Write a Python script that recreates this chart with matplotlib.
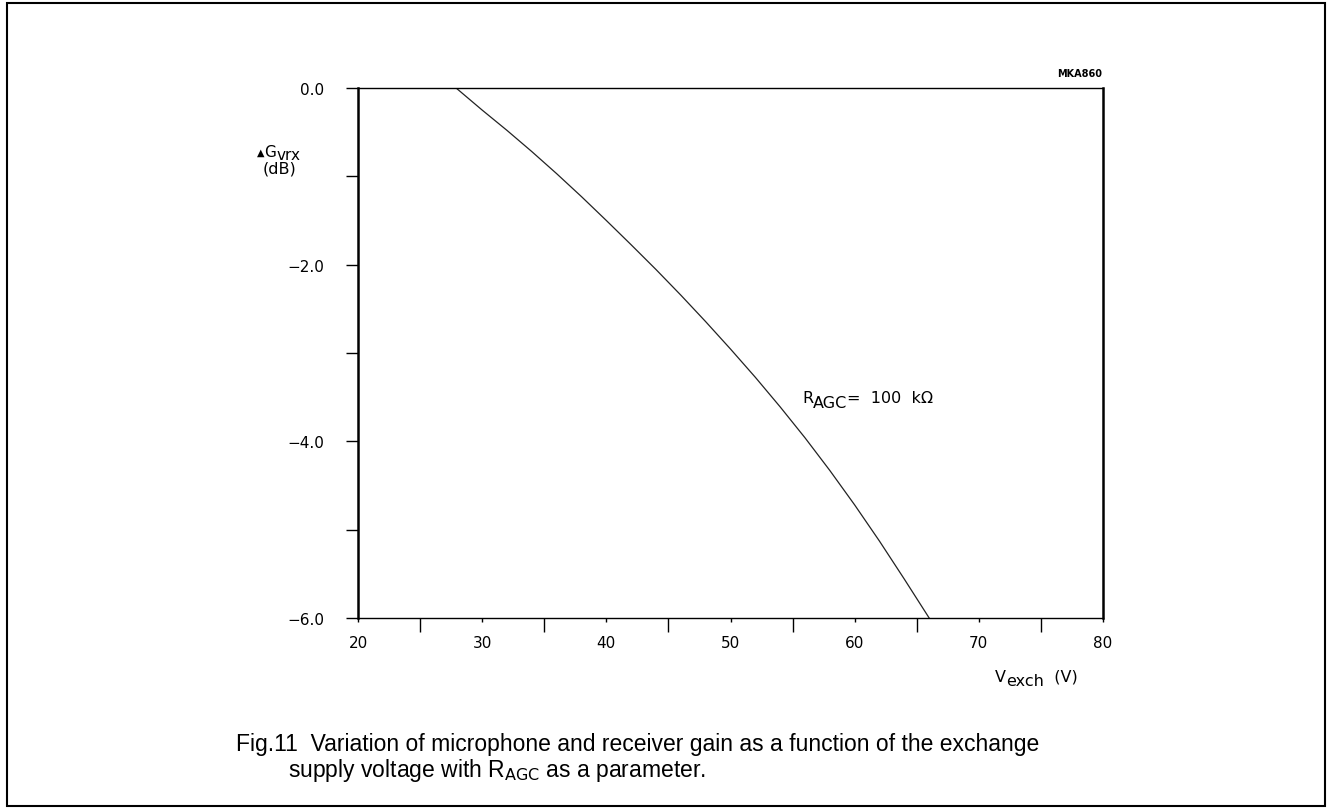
import matplotlib
matplotlib.use('Agg')
import matplotlib.pyplot as plt
from matplotlib.patches import Rectangle
from matplotlib.ticker import FixedLocator

# curve (V_exch in V, delta G_vrx in dB)
v_exch = [27.9, 30, 32, 34, 36, 38, 40, 42, 44, 46, 48, 50, 52, 54, 56, 58, 60, 62, 64, 66.0]
gain = [0.0, -0.25, -0.48, -0.72, -0.97, -1.23, -1.50, -1.775, -2.055, -2.345, -2.645, -2.955,
        -3.275, -3.61, -3.96, -4.33, -4.72, -5.13, -5.56, -6.0]

x_ticks = [20, 30, 40, 50, 60, 70, 80]
x_minor = [25, 35, 45, 55, 65, 75]
y_ticks = [0.0, -2.0, -4.0, -6.0]
y_minor = [-1.0, -3.0, -5.0]

W, H = 1327, 812
plt.rcParams['font.family'] = ['DejaVu Sans']

fig = plt.figure(figsize=(W / 100, H / 100), dpi=100)
ax = fig.add_axes([358 / W, 1 - 619 / H, 745 / W, 530 / H])

ax.plot(v_exch, gain, color='#222222', linewidth=0.9)

ax.set_xlim(20, 80)
ax.set_ylim(-6, 0)

# ticks
ax.xaxis.set_major_locator(FixedLocator(x_ticks))
ax.xaxis.set_minor_locator(FixedLocator(x_minor))
ax.yaxis.set_major_locator(FixedLocator(y_ticks))
ax.yaxis.set_minor_locator(FixedLocator(y_minor))
ax.set_xticklabels([str(t) for t in x_ticks])
ax.set_yticklabels([('%.1f' % t).replace('-', '\u2212') for t in y_ticks])
ax.tick_params(axis='x', which='major', direction='out', length=3, width=1, pad=9, labelsize=11)
ax.tick_params(axis='x', which='minor', direction='out', length=10, width=1)
ax.tick_params(axis='y', which='both', direction='out', length=9, width=1, pad=15.5, labelsize=11)

for side in ['left', 'right']:
    ax.spines[side].set_linewidth(1.8)
for side in ['top', 'bottom']:
    ax.spines[side].set_linewidth(1.0)

renderer = fig.canvas.get_renderer()


def pieces(x, y, parts, size):
    # parts: list of (text, baseline shift in px, fontsize or None)
    cx = x
    for s, dy, fs in parts:
        t = fig.text(cx / W, 1 - (y + dy) / H, s, fontsize=fs or size, va='baseline', ha='left')
        cx += t.get_window_extent(renderer).width


# y-axis label
pieces(257, 157, [('\u25b2', -1, 7), ('G', 0, None), ('vrx', 3, None)], 11)
fig.text(263 / W, 1 - 174 / H, '(dB)', fontsize=11.5, va='baseline', ha='left')

# x-axis label
pieces(995, 682, [('V', 0, None), ('exch', 4, None), ('  (V)', 0, None)], 11.5)

# curve label
pieces(802, 403, [('R', 0, None), ('AGC', 5, None), ('=  100  k\u03a9', 0, None)], 11.5)

# figure code
fig.text(1102 / W, 1 - 74 / H, 'MKA860', fontsize=7, fontweight='bold', va='center', ha='right')

# caption
fig.text(236 / W, 1 - 745 / H,
         'Fig.11  Variation of microphone and receiver gain as a function of the exchange',
         family='Liberation Sans', fontsize=16.5, va='center', ha='left')
fig.text(288 / W, 1 - 771 / H,
         r'supply voltage with R$_{\rm AGC}$ as a parameter.',
         family='Liberation Sans', fontsize=16.5, va='center', ha='left')

# outer frame
fig.patches.append(Rectangle((0.005, 0.006), 0.9935, 0.989, transform=fig.transFigure,
                             fill=False, edgecolor='black', linewidth=1.5))

fig.savefig('out.png', dpi=100)
